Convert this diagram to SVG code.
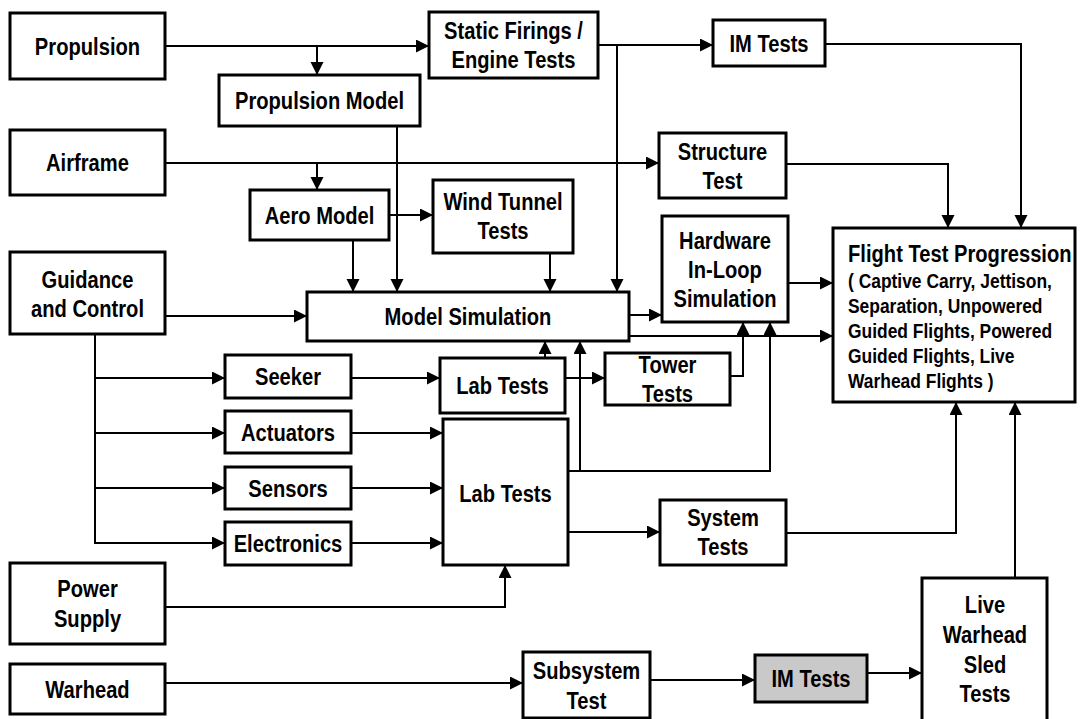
<svg xmlns="http://www.w3.org/2000/svg" width="1080" height="719" viewBox="0 0 1080 719">
<style>
.box{fill:#fff;stroke:#000;stroke-width:3}
.gray{fill:#c9c9c9;stroke:#000;stroke-width:3}
.t{font-family:"Liberation Sans",Arial,sans-serif;font-weight:bold;font-size:24px;text-anchor:middle;fill:#000}
.l{text-anchor:start}
.s{font-family:"Liberation Sans",Arial,sans-serif;font-weight:bold;font-size:21px;fill:#000}
.c{fill:none;stroke:#000;stroke-width:2}
</style>
<defs>
<marker id="ah" markerUnits="userSpaceOnUse" markerWidth="14" markerHeight="14" refX="13" refY="6.5" orient="auto">
<path d="M0,0 L13,6.5 L0,13 z" fill="#000"/>
</marker>
</defs>
<rect width="1080" height="719" fill="#fff"/>
<g id="connectors">
<path class="c" d="M165,46 H429" marker-end="url(#ah)"/>
<path class="c" d="M317,46 V75" marker-end="url(#ah)"/>
<path class="c" d="M598,45 H713" marker-end="url(#ah)"/>
<path class="c" d="M617,45 V292" marker-end="url(#ah)"/>
<path class="c" d="M825,44 H1021 V228" marker-end="url(#ah)"/>
<path class="c" d="M397,126 V292" marker-end="url(#ah)"/>
<path class="c" d="M165,163 H659" marker-end="url(#ah)"/>
<path class="c" d="M317,163 V190" marker-end="url(#ah)"/>
<path class="c" d="M786,164 H948 V228" marker-end="url(#ah)"/>
<path class="c" d="M389,215 H433" marker-end="url(#ah)"/>
<path class="c" d="M353,240 V292" marker-end="url(#ah)"/>
<path class="c" d="M550,253 V292" marker-end="url(#ah)"/>
<path class="c" d="M165,316 H307" marker-end="url(#ah)"/>
<path class="c" d="M95,334 V543"/>
<path class="c" d="M95,378 H225" marker-end="url(#ah)"/>
<path class="c" d="M95,433 H225" marker-end="url(#ah)"/>
<path class="c" d="M95,488 H225" marker-end="url(#ah)"/>
<path class="c" d="M94,543 H225" marker-end="url(#ah)"/>
<path class="c" d="M351,378 H440" marker-end="url(#ah)"/>
<path class="c" d="M351,433 H443" marker-end="url(#ah)"/>
<path class="c" d="M351,488 H443" marker-end="url(#ah)"/>
<path class="c" d="M351,543 H443" marker-end="url(#ah)"/>
<path class="c" d="M545,358 V341" marker-end="url(#ah)"/>
<path class="c" d="M565,378 H605" marker-end="url(#ah)"/>
<path class="c" d="M730,376 H743 V322" marker-end="url(#ah)"/>
<path class="c" d="M568,471 H770 V322" marker-end="url(#ah)"/>
<path class="c" d="M580,471 V341" marker-end="url(#ah)"/>
<path class="c" d="M629,315 H662" marker-end="url(#ah)"/>
<path class="c" d="M629,336 H833" marker-end="url(#ah)"/>
<path class="c" d="M788,283 H833" marker-end="url(#ah)"/>
<path class="c" d="M568,532 H660" marker-end="url(#ah)"/>
<path class="c" d="M786,533 H956 V402" marker-end="url(#ah)"/>
<path class="c" d="M1015,578 V402" marker-end="url(#ah)"/>
<path class="c" d="M165,607 H505 V565" marker-end="url(#ah)"/>
<path class="c" d="M165,683 H523" marker-end="url(#ah)"/>
<path class="c" d="M650,680 H755" marker-end="url(#ah)"/>
<path class="c" d="M867,673 H922" marker-end="url(#ah)"/>
</g>
<g id="propulsion"><rect class="box" x="10" y="13" width="155" height="66"/><text class="t" transform="translate(87.5,55) scale(0.84,1)">Propulsion</text></g>
<g id="airframe"><rect class="box" x="10" y="130" width="155" height="65"/><text class="t" transform="translate(87.5,171) scale(0.84,1)">Airframe</text></g>
<g id="guidance"><rect class="box" x="10" y="252" width="155" height="82"/><text class="t" transform="translate(87.5,288) scale(0.84,1)">Guidance</text><text class="t" transform="translate(87.5,317) scale(0.84,1)">and Control</text></g>
<g id="power"><rect class="box" x="10" y="563" width="155" height="81"/><text class="t" transform="translate(87.5,597) scale(0.84,1)">Power</text><text class="t" transform="translate(87.5,627) scale(0.84,1)">Supply</text></g>
<g id="warhead"><rect class="box" x="10" y="664" width="155" height="50"/><text class="t" transform="translate(87.5,698) scale(0.84,1)">Warhead</text></g>
<g id="static-firings"><rect class="box" x="429" y="12" width="169" height="66"/><text class="t" transform="translate(513.5,39) scale(0.84,1)">Static Firings /</text><text class="t" transform="translate(513.5,68) scale(0.84,1)">Engine Tests</text></g>
<g id="im-tests-top"><rect class="box" x="713" y="20" width="112" height="46"/><text class="t" transform="translate(769,52) scale(0.84,1)">IM Tests</text></g>
<g id="propulsion-model"><rect class="box" x="219" y="75" width="201" height="51"/><text class="t" transform="translate(319.5,109) scale(0.84,1)">Propulsion Model</text></g>
<g id="structure-test"><rect class="box" x="659" y="133" width="127" height="65"/><text class="t" transform="translate(722.5,160) scale(0.84,1)">Structure</text><text class="t" transform="translate(722.5,189) scale(0.84,1)">Test</text></g>
<g id="aero-model"><rect class="box" x="250" y="190" width="139" height="50"/><text class="t" transform="translate(319.5,224) scale(0.84,1)">Aero Model</text></g>
<g id="wind-tunnel"><rect class="box" x="433" y="180" width="140" height="73"/><text class="t" transform="translate(503,210) scale(0.84,1)">Wind Tunnel</text><text class="t" transform="translate(503,239) scale(0.84,1)">Tests</text></g>
<g id="hardware-in-loop"><rect class="box" x="662" y="216" width="126" height="106"/><text class="t" transform="translate(725,249) scale(0.84,1)">Hardware</text><text class="t" transform="translate(725,278) scale(0.84,1)">In-Loop</text><text class="t" transform="translate(725,307) scale(0.84,1)">Simulation</text></g>
<g id="flight-test"><rect class="box" x="833" y="228" width="242" height="174"/><text class="t l" transform="translate(848,262) scale(0.84,1)">Flight Test Progression</text><text class="s" transform="translate(848,288) scale(0.83,1)">( Captive Carry, Jettison,</text><text class="s" transform="translate(848,313) scale(0.83,1)">Separation, Unpowered</text><text class="s" transform="translate(848,338) scale(0.83,1)">Guided Flights, Powered</text><text class="s" transform="translate(848,363) scale(0.83,1)">Guided Flights, Live</text><text class="s" transform="translate(848,388) scale(0.83,1)">Warhead Flights )</text></g>
<g id="model-simulation"><rect class="box" x="307" y="292" width="322" height="49"/><text class="t" transform="translate(468,325) scale(0.84,1)">Model Simulation</text></g>
<g id="seeker"><rect class="box" x="225" y="355" width="126" height="43"/><text class="t" transform="translate(288,385) scale(0.84,1)">Seeker</text></g>
<g id="actuators"><rect class="box" x="225" y="411" width="126" height="42"/><text class="t" transform="translate(288,441) scale(0.84,1)">Actuators</text></g>
<g id="sensors"><rect class="box" x="225" y="467" width="126" height="42"/><text class="t" transform="translate(288,497) scale(0.84,1)">Sensors</text></g>
<g id="electronics"><rect class="box" x="225" y="522" width="126" height="43"/><text class="t" transform="translate(288,552) scale(0.84,1)">Electronics</text></g>
<g id="lab-tests-upper"><rect class="box" x="440" y="358" width="125" height="55"/><text class="t" transform="translate(502.5,394) scale(0.84,1)">Lab Tests</text></g>
<g id="lab-tests-lower"><rect class="box" x="443" y="419" width="125" height="146"/><text class="t" transform="translate(505.5,502) scale(0.84,1)">Lab Tests</text></g>
<g id="tower-tests"><rect class="box" x="605" y="353" width="125" height="52"/><text class="t" transform="translate(667.5,373) scale(0.84,1)">Tower</text><text class="t" transform="translate(667.5,402) scale(0.84,1)">Tests</text></g>
<g id="system-tests"><rect class="box" x="660" y="500" width="126" height="65"/><text class="t" transform="translate(723,526) scale(0.84,1)">System</text><text class="t" transform="translate(723,555) scale(0.84,1)">Tests</text></g>
<g id="subsystem-test"><rect class="box" x="523" y="652" width="127" height="66"/><text class="t" transform="translate(586.5,679) scale(0.84,1)">Subsystem</text><text class="t" transform="translate(586.5,709) scale(0.84,1)">Test</text></g>
<g id="im-tests-bottom"><rect class="gray" x="755" y="655" width="112" height="47"/><text class="t" transform="translate(811,687) scale(0.84,1)">IM Tests</text></g>
<g id="live-warhead"><rect class="box" x="922" y="578" width="125" height="160"/><text class="t" transform="translate(985,613) scale(0.84,1)">Live</text><text class="t" transform="translate(985,643) scale(0.84,1)">Warhead</text><text class="t" transform="translate(985,673) scale(0.84,1)">Sled</text><text class="t" transform="translate(985,702) scale(0.84,1)">Tests</text></g>
</svg>
